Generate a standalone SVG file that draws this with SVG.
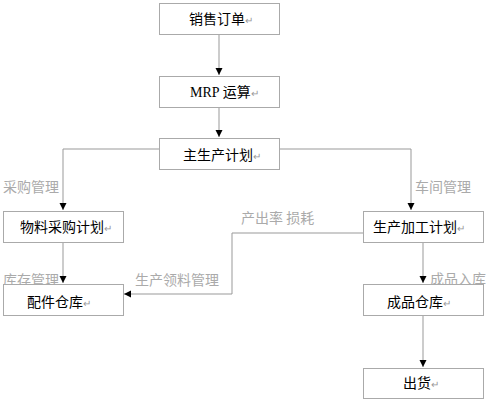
<svg xmlns="http://www.w3.org/2000/svg" width="486" height="403" viewBox="0 0 486 403">
<style>
.box{fill:#fff;stroke:#aaa;stroke-width:1}
.t{font-family:"Noto Sans CJK SC","Liberation Sans",sans-serif;font-size:14px;fill:#000}
.r{fill:#999;font-size:10px}
.lbl{font-family:"Noto Sans CJK SC","Liberation Sans",sans-serif;font-size:14px;fill:#aaa}
.ln{fill:none;stroke:#999;stroke-width:1}
</style>
<defs>
<marker id="ah" markerWidth="8" markerHeight="8" refX="7" refY="4" orient="auto" markerUnits="userSpaceOnUse">
<path d="M0,0.5 L7,4 L0,7.5 Z" fill="#000"/>
</marker>
</defs>
<rect width="486" height="403" fill="#fff"/>
<g id="labels">
<text class="lbl" x="3" y="192">采购管理</text>
<text class="lbl" x="415" y="192">车间管理</text>
<text class="lbl" x="3" y="285">库存管理</text>
<text class="lbl" x="135" y="285">生产领料管理</text>
<text class="lbl" x="241" y="223">产出率 损耗</text>
<text class="lbl" x="430" y="284">成品入库</text>
</g>
<g id="connectors">
<line class="ln" x1="219" y1="34" x2="219" y2="75" marker-end="url(#ah)"/>
<line class="ln" x1="219" y1="107" x2="219" y2="137" marker-end="url(#ah)"/>
<polyline class="ln" points="159,149 63,149 63,210" marker-end="url(#ah)"/>
<polyline class="ln" points="279,149 411,149 411,210" marker-end="url(#ah)"/>
<line class="ln" x1="63" y1="242" x2="63" y2="283" marker-end="url(#ah)"/>
<polyline class="ln" points="363,233 232,233 232,294 124,294" marker-end="url(#ah)"/>
<line class="ln" x1="423" y1="242" x2="423" y2="283" marker-end="url(#ah)"/>
<line class="ln" x1="423" y1="316" x2="423" y2="367" marker-end="url(#ah)"/>
</g>
<g id="n1"><rect class="box" x="159.5" y="3.5" width="120" height="31"/><text class="t" x="189" y="24">销售订单<tspan class="r">↵</tspan></text></g>
<g id="n2"><rect class="box" x="159.5" y="76.5" width="120" height="31"/><text class="t" x="190" y="97"><tspan font-family="Liberation Serif,serif">MRP</tspan> 运算<tspan class="r">↵</tspan></text></g>
<g id="n3"><rect class="box" x="159.5" y="138.5" width="120" height="31"/><text class="t" x="183" y="160">主生产计划<tspan class="r">↵</tspan></text></g>
<g id="n4"><rect class="box" x="3.5" y="211.5" width="120" height="31"/><text class="t" x="20" y="232">物料采购计划<tspan class="r">↵</tspan></text></g>
<g id="n5"><rect class="box" x="3.5" y="284.5" width="120" height="31"/><text class="t" x="27" y="307">配件仓库<tspan class="r">↵</tspan></text></g>
<g id="n6"><rect class="box" x="363.5" y="211.5" width="120" height="31"/><text class="t" x="373" y="232">生产加工计划<tspan class="r">↵</tspan></text></g>
<g id="n7"><rect class="box" x="363.5" y="284.5" width="120" height="31"/><text class="t" x="387" y="307">成品仓库<tspan class="r">↵</tspan></text></g>
<g id="n8"><rect class="box" x="363.5" y="368.5" width="120" height="30"/><text class="t" x="403" y="388">出货<tspan class="r">↵</tspan></text></g>
</svg>
